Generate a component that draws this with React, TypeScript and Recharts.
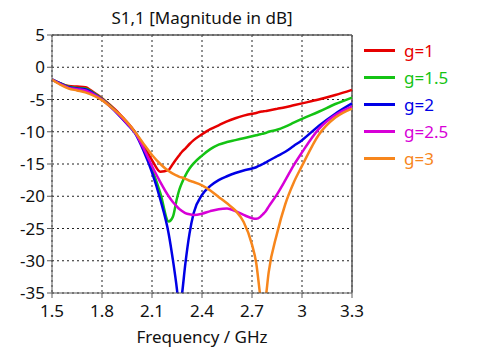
import React from 'react';
import {
  LineChart,
  Line,
  XAxis,
  YAxis,
  CartesianGrid,
  ReferenceLine,
} from 'recharts';

const freq = [
  1.5, 1.55, 1.6, 1.65, 1.7, 1.75, 1.8, 1.85, 1.9, 1.95,
  2.0, 2.05, 2.1, 2.15, 2.2, 2.225, 2.25, 2.265, 2.28, 2.3,
  2.325, 2.35, 2.4, 2.45, 2.5, 2.55, 2.6, 2.65, 2.7, 2.725,
  2.75, 2.765, 2.78, 2.8, 2.85, 2.9, 2.95, 3.0, 3.1, 3.2, 3.3,
];

const g1 = [
  -1.9, -2.5, -2.9, -3.0, -3.1, -3.9, -4.8, -5.9, -7.1, -8.5,
  -10.1, -12.2, -14.4, -16.2, -15.9, -15.0, -14.1, -13.6, -13.1, -12.6,
  -11.9, -11.3, -10.4, -9.6, -9.0, -8.4, -7.9, -7.5, -7.2, -7.1,
  -6.9, -6.85, -6.8, -6.7, -6.45, -6.2, -5.9, -5.6, -5.0, -4.3, -3.5,
];
const g15 = [
  -1.9, -2.5, -3.0, -3.2, -3.3, -4.0, -4.9, -6.0, -7.3, -8.7,
  -10.2, -12.6, -15.8, -19.5, -23.9, -23.2, -20.3, -18.9, -17.9, -16.8,
  -15.7, -14.9, -13.7, -12.7, -12.0, -11.6, -11.3, -11.0, -10.7, -10.55,
  -10.4, -10.3, -10.2, -10.0, -9.7, -9.2, -8.6, -8.0, -6.9, -5.7, -4.7,
];
const g2 = [
  -1.9, -2.5, -3.1, -3.3, -3.4, -4.1, -5.0, -6.1, -7.4, -8.8,
  -10.3, -13.0, -16.3, -20.5, -25.8, -29.8, -34.5, -38, -35.2, -30.5,
  -25.8, -22.6, -19.8, -18.4, -17.5, -16.9, -16.4, -16.0, -15.7, -15.5,
  -15.2, -15.0, -14.8, -14.5, -13.8, -13.1, -12.2, -11.3, -9.1, -7.2, -5.6,
];
const g25 = [
  -1.9, -2.6, -3.2, -3.4, -3.6, -4.2, -5.0, -6.1, -7.3, -8.7,
  -10.2, -12.6, -15.3, -17.8, -20.0, -20.9, -21.6, -22.0, -22.3, -22.6,
  -22.8, -22.9, -22.7, -22.3, -22.0, -21.9, -22.3, -22.9, -23.4, -23.5,
  -23.2, -22.8, -22.4, -21.6, -19.7, -17.5, -15.2, -13.2, -9.6, -7.4, -6.1,
];
const g3 = [
  -1.9, -2.7, -3.3, -3.6, -3.9, -4.4, -5.1, -6.1, -7.2, -8.5,
  -10.1, -11.9, -13.6, -15.0, -16.1, -16.5, -16.8, -17.0, -17.1, -17.3,
  -17.6, -17.8, -18.3, -19.1, -20.1, -21.1, -22.2, -24.0, -27.5, -30.3,
  -35.5, -38, -36.2, -31.8, -25.8, -21.2, -17.9, -15.3, -10.5, -7.8, -6.4,
];

const xTicks = [1.5, 1.8, 2.1, 2.4, 2.7, 3, 3.3];
const yTicks = [5, 0, -5, -10, -15, -20, -25, -30, -35];

const series = [
  { key: 'g1', name: 'g=1', color: '#e60000', values: g1 },
  { key: 'g15', name: 'g=1.5', color: '#14c314', values: g15 },
  { key: 'g2', name: 'g=2', color: '#0000e6', values: g2 },
  { key: 'g25', name: 'g=2.5', color: '#d700d7', values: g25 },
  { key: 'g3', name: 'g=3', color: '#f7861c', values: g3 },
];

const data = freq.map((f, i) => {
  const row: Record<string, number> = { f };
  series.forEach((s) => {
    row[s.key] = s.values[i];
  });
  return row;
});

const FONT = '"Noto Sans", "Liberation Sans", sans-serif';
const AXIS = '#5a5a5a';

export default function App() {
  return (
    <div style={{ position: 'absolute', left: 0, top: 0, width: 485, height: 347, background: '#fff' }}>
      <div
        style={{
          position: 'absolute',
          left: 52,
          width: 300,
          top: 5,
          lineHeight: '26px',
          textAlign: 'center',
          fontFamily: FONT,
          fontSize: 17,
          color: '#111',
        }}
      >
        S1,1 [Magnitude in dB]
      </div>
      <LineChart
        width={485}
        height={347}
        data={data}
        margin={{ top: 35, right: 133, bottom: 24, left: 12 }}
      >
        <CartesianGrid stroke="#222" strokeDasharray="2 3" horizontalValues={yTicks} verticalValues={xTicks} />
        <XAxis
          dataKey="f"
          type="number"
          domain={[1.5, 3.3]}
          ticks={xTicks}
          height={30}
          stroke={AXIS}
          tickSize={5}
          tickMargin={7}
          tick={{ fill: '#111', fontSize: 17, fontFamily: FONT }}
          label={{ value: 'Frequency / GHz', position: 'insideBottom', offset: -20, fill: '#111', fontSize: 17, fontFamily: FONT }}
        />
        <YAxis
          type="number"
          domain={[-35, 5]}
          ticks={yTicks}
          allowDataOverflow
          width={40}
          stroke={AXIS}
          tickSize={5}
          interval={0}
          tick={{ fill: '#111', fontSize: 17, fontFamily: FONT }}
        />
        <ReferenceLine y={5} stroke={AXIS} strokeWidth={1.5} />
        <ReferenceLine x={3.3} stroke={AXIS} strokeWidth={1.5} />
        {series.map((s) => (
          <Line
            key={s.key}
            type="monotone"
            dataKey={s.key}
            name={s.name}
            stroke={s.color}
            strokeWidth={2.5}
            dot={false}
            isAnimationActive={false}
          />
        ))}
      </LineChart>
      <div style={{ position: 'absolute', left: 364, top: 37, fontFamily: FONT, fontSize: 17 }}>
        {series.map((s) => (
          <div key={s.key} style={{ display: 'flex', alignItems: 'center', height: 27 }}>
            <div style={{ width: 31, height: 3, background: s.color, marginRight: 9 }} />
            <span style={{ color: s.color }}>{s.name}</span>
          </div>
        ))}
      </div>
    </div>
  );
}
